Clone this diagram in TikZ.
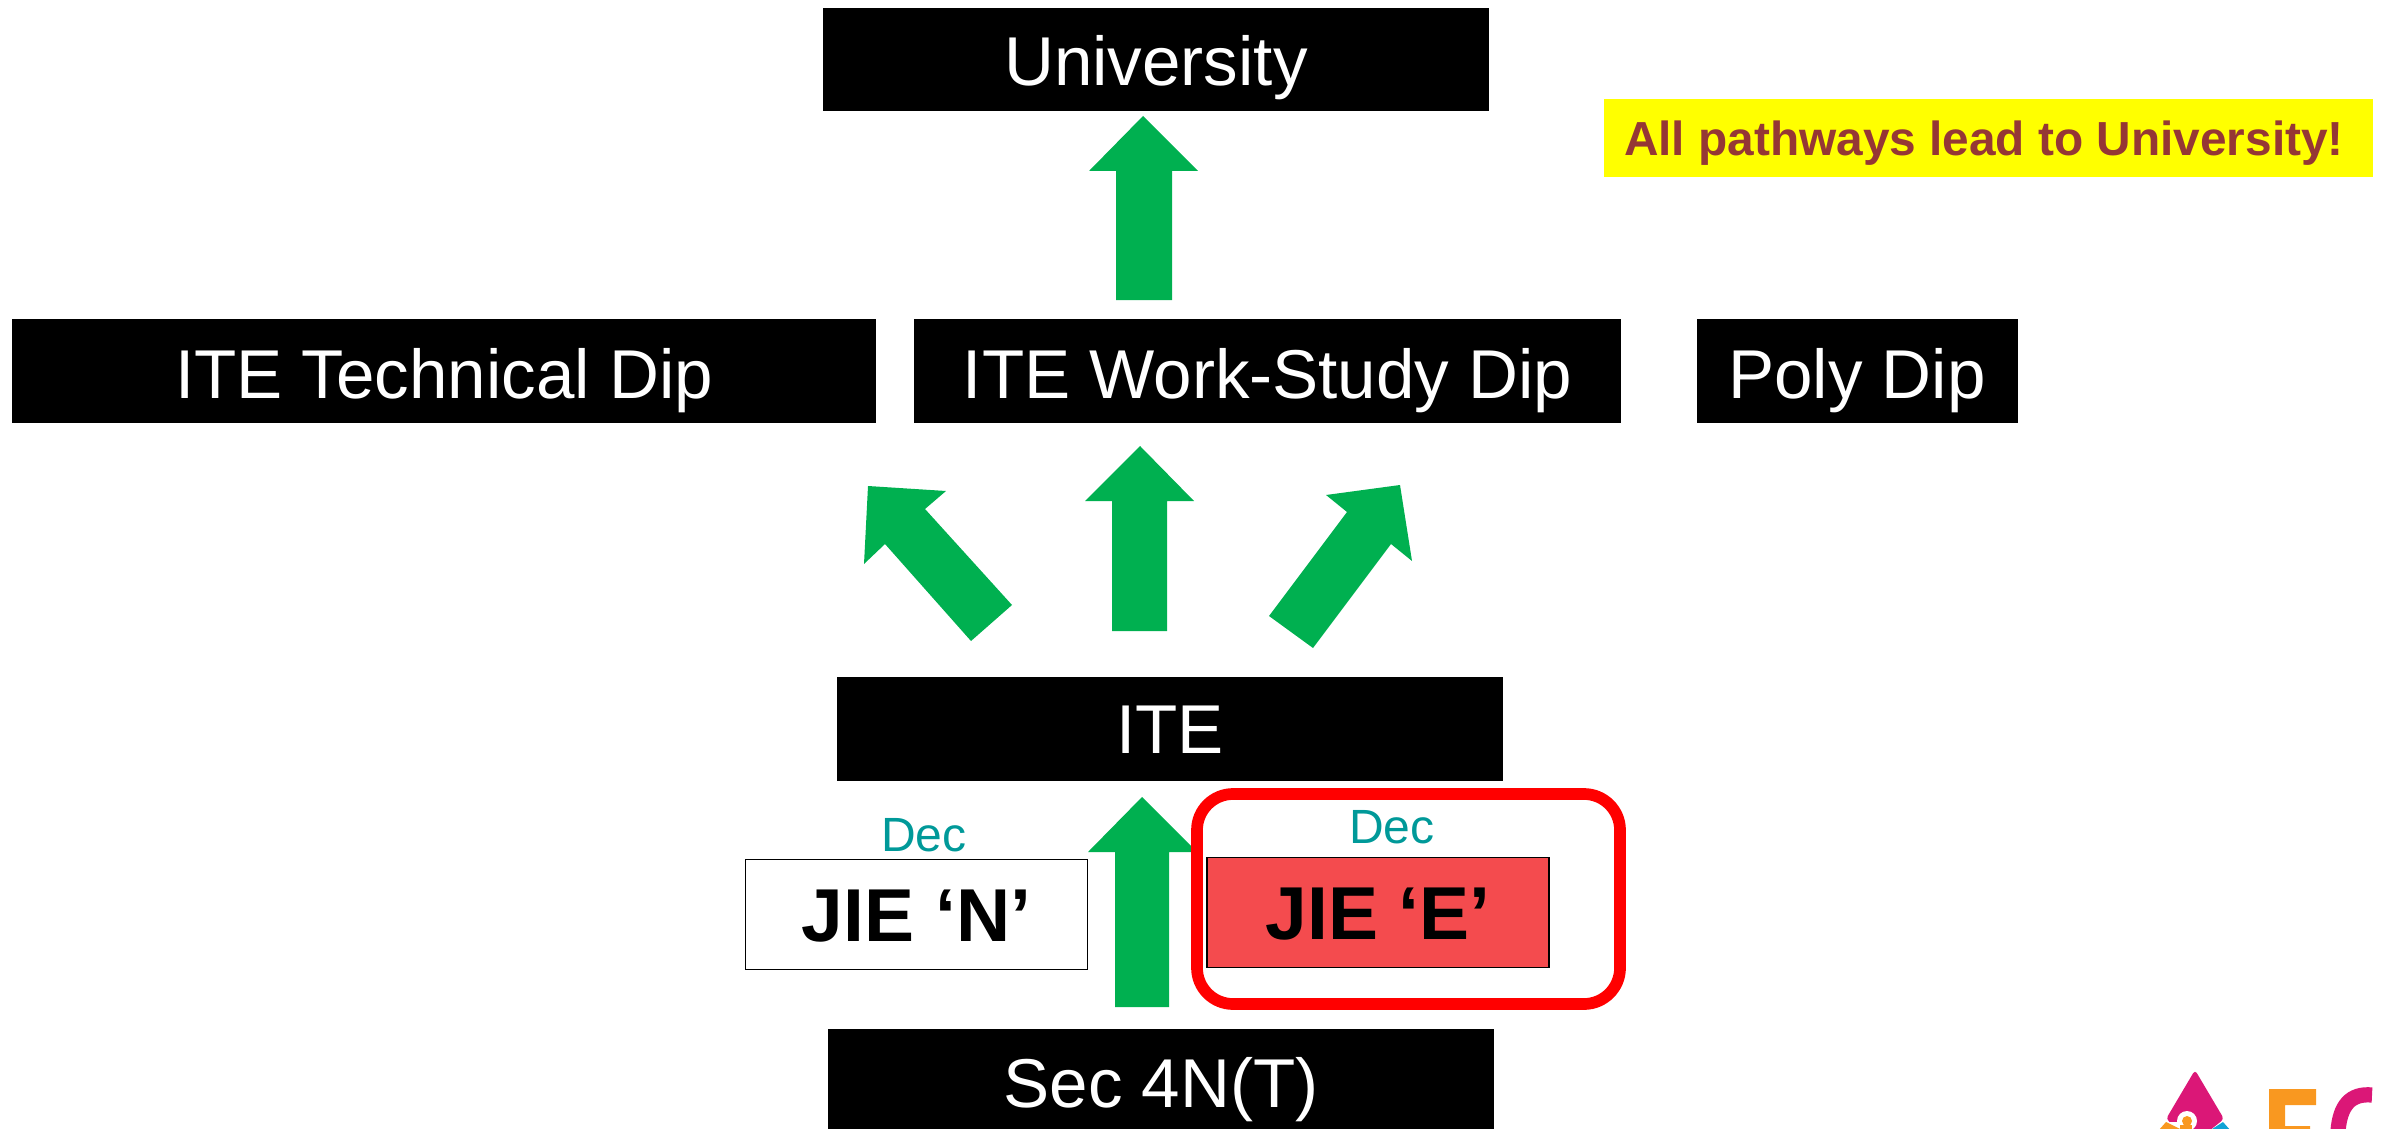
\documentclass[tikz,border=0pt]{standalone}
\usepackage{fontspec}
\setmainfont{Liberation Sans}
\definecolor{arrowgreen}{HTML}{00B050}
\definecolor{deccolor}{HTML}{009999}
\definecolor{jiered}{HTML}{F44B4E}
\definecolor{maroon}{HTML}{953735}
\definecolor{noteyellow}{RGB}{255,255,0}
\definecolor{framered}{RGB}{255,0,0}
\definecolor{logomag}{HTML}{DB1777}
\definecolor{logoorg}{HTML}{F99820}
\definecolor{logoblu}{HTML}{0FA3D6}
\tikzset{
  blackbox/.style={fill=black,text=white,inner sep=0pt,font=\fontsize{59}{60}\selectfont,text height=42pt,text depth=0pt},
  jiebox/.style={draw=black,line width=1.6pt,inner sep=0pt,font=\fontsize{64}{65}\selectfont\bfseries,text=black,text height=46pt,text depth=0pt},
  declabel/.style={text=deccolor,inner sep=0pt,font=\fontsize{41}{42}\selectfont,text height=29pt,text depth=0pt},
  blockarrow/.style={fill=arrowgreen,draw=none},
}
\begin{document}
\begin{tikzpicture}[x=0.03cm,y=-0.03cm]
\useasboundingbox (0,0) rectangle (2389,1129);
% boxes
\node[blackbox,minimum width=666*0.03cm,minimum height=103*0.03cm,text height=44pt] (univ) at (1156,59.5) {University};
\node[blackbox,minimum width=864*0.03cm,minimum height=104*0.03cm,text height=47pt] (tech) at (444,370.5) {ITE Technical Dip};
\node[blackbox,minimum width=707*0.03cm,minimum height=104*0.03cm,text height=47pt] (work) at (1267.5,370.5) {ITE Work-Study Dip};
\node[blackbox,minimum width=321*0.03cm,minimum height=104*0.03cm,text height=47pt] (poly) at (1857,370.5) {Poly Dip};
\node[blackbox,minimum width=666*0.03cm,minimum height=104*0.03cm] (ite) at (1170,729) {ITE};
\node[blackbox,minimum width=666*0.03cm,minimum height=106*0.03cm,text height=44pt] (sec) at (1161,1082) {Sec 4N(T)};
% green block arrows
\fill[blockarrow] (1143,116) -- (1198,171) -- (1172,171) -- (1172,300) -- (1116,300) -- (1116,171) -- (1089,171) -- cycle;
\fill[blockarrow] (1140,446) -- (1194,501) -- (1167,501) -- (1167,631) -- (1112,631) -- (1112,501) -- (1085,501) -- cycle;
\fill[blockarrow] (868,486) -- (946,491) -- (925,509) -- (1012,605) -- (971,641) -- (885,544) -- (864,564) -- cycle;
\fill[blockarrow] (1400,485) -- (1326,495) -- (1347,512) -- (1269,616) -- (1313,648) -- (1391,544) -- (1412,561) -- cycle;
\fill[blockarrow] (1142,797) -- (1197,852) -- (1169,852) -- (1169,1007) -- (1115,1007) -- (1115,852) -- (1088,852) -- cycle;
% JIE boxes
\node[jiebox,fill=white,minimum width=342*0.03cm,minimum height=110*0.03cm] (jien) at (916.5,914.5) {JIE ‘N’};
\node[jiebox,fill=jiered,minimum width=342*0.03cm,minimum height=110*0.03cm] (jiee) at (1378,912.5) {JIE ‘E’};
\node[declabel] (decn) at (924,835) {Dec};
\node[declabel] (dece) at (1392,827) {Dec};
% red rounded frame
\draw[framered,line width=10pt,rounded corners=36*0.03cm] (1197,794) rectangle (1620,1004);
% note
\node[fill=noteyellow,text=maroon,inner sep=0pt,minimum width=769*0.03cm,minimum height=78*0.03cm,font=\fontsize{40.8}{42}\selectfont\bfseries,text height=30pt,text depth=0pt] (note) at (1988.5,138) {\hspace*{-7.8pt}All pathways lead to University!};
% logo fragment
\fill[logomag,rounded corners=3pt] (2195,1070) -- (2224,1119) -- (2209,1131) -- (2181,1131) -- (2166,1119) -- cycle;
\fill[logoblu] (2223,1122) -- (2231,1131) -- (2209,1131) -- cycle;
\fill[white] (2187,1121) circle (10);
\fill[white] (2170,1122) rectangle (2192,1131);
\fill[logoorg] (2166,1122) -- (2180,1129) -- (2158,1131) -- cycle;
\fill[logoorg] (2187,1121) circle (5);
\fill[logoorg] (2180,1125) rectangle (2192,1131);
\fill[logoorg] (2269,1089) -- (2316,1089) -- (2316,1105) -- (2285,1105) -- (2285,1126) -- (2310,1126) -- (2310,1131) -- (2269,1131) -- cycle;
\draw[logomag,line width=13pt] (2372,1095) .. controls (2350,1093) and (2340,1106) .. (2338,1131);
\end{tikzpicture}
\end{document}
